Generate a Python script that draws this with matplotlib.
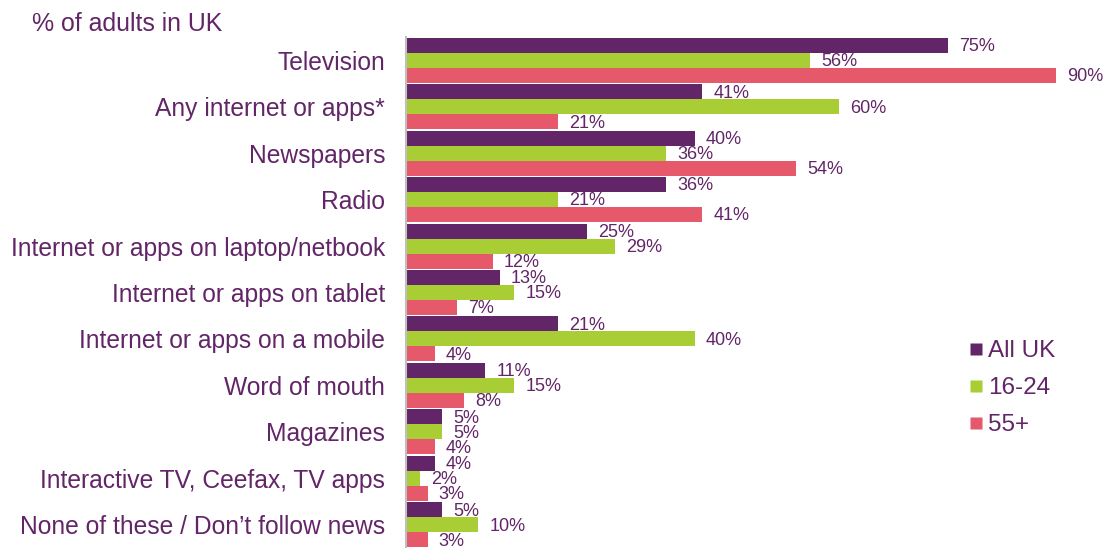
import matplotlib
matplotlib.use("Agg")
import matplotlib.pyplot as plt
import numpy as np
from matplotlib.lines import Line2D

plt.rcParams['font.family'] = ['Liberation Sans', 'DejaVu Sans']

categories = ["Television", "Any internet or apps*", "Newspapers", "Radio",
              "Internet or apps on laptop/netbook", "Internet or apps on tablet",
              "Internet or apps on a mobile", "Word of mouth", "Magazines",
              "Interactive TV, Ceefax, TV apps", "None of these / Don\u2019t follow news"]
series_names = ["All UK", "16-24", "55+"]
all_uk = [75, 41, 40, 36, 25, 13, 21, 11, 5, 4, 5]
age_16_24 = [56, 60, 36, 21, 29, 15, 40, 15, 5, 2, 10]
age_55_plus = [90, 21, 54, 41, 12, 7, 4, 8, 4, 3, 3]

colors = ["#622567", "#a8cd35", "#e5596b"]
text_color = "#622567"

fig = plt.figure(figsize=(11.07, 5.48), dpi=100)
ax = fig.add_axes([406/1107, 0.0, (1056-406)/1107, 1 - 37/548])

y = np.arange(len(categories))
h = 0.323
offsets = [-h, 0, h]
for vals, off, c in zip([all_uk, age_16_24, age_55_plus], offsets, colors):
    bars = ax.barh(y + off, vals, height=h, color=c, edgecolor='none')
    for b, v in zip(bars, vals):
        ax.annotate(f"{v}%", (b.get_width(), b.get_y() + b.get_height()/2),
                    xytext=(8, -1), textcoords='offset points', va='center', ha='left',
                    fontsize=13, color=text_color, annotation_clip=False)

ax.set_xlim(0, 90)
ax.set_ylim(len(categories) - 0.5, -0.5)
ax.set_yticks(y)
ax.set_yticklabels(categories, fontsize=17.7, color=text_color)
ax.set_xticks([])
ax.tick_params(axis='y', length=0, pad=15)
for s in ['top', 'right', 'bottom']:
    ax.spines[s].set_visible(False)
ax.spines['left'].set_color('#bfbfbf')
ax.spines['left'].set_linewidth(1.5)

fig.text(32/1107, 1 - 24/548, "% of adults in UK", fontsize=17.9, color=text_color,
         ha='left', va='center')

handles = [Line2D([], [], marker='s', linestyle='none', markersize=9,
                  markerfacecolor=c, markeredgecolor='none') for c in colors]
leg = fig.legend(handles, series_names, loc='upper left',
                 bbox_to_anchor=(969/1107, 1 - 340/548), frameon=False,
                 fontsize=17.5, handlelength=0.6, handletextpad=0.2,
                 labelspacing=0.62, borderpad=0, borderaxespad=0)
for t in leg.get_texts():
    t.set_color(text_color)

fig.savefig("out.png", dpi=100)
